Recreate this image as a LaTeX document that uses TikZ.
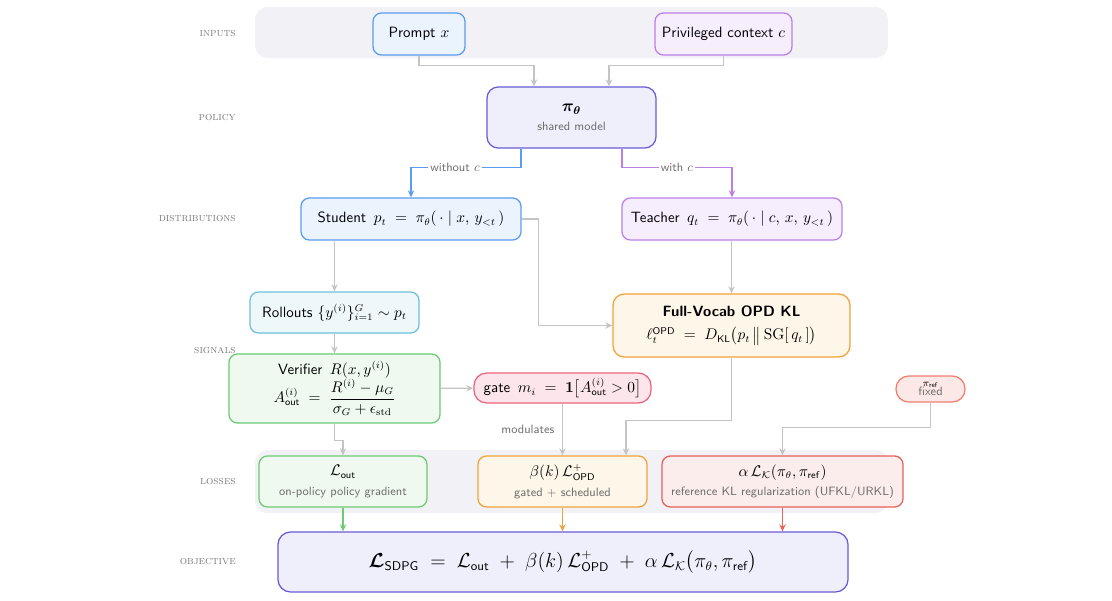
\documentclass[tikz,border=0pt]{standalone}
\usepackage{amsmath,amssymb,amsfonts}
\usepackage{bm}
\usepackage{xcolor}
\usepackage{tikz}
\usetikzlibrary{arrows.meta,positioning,calc}
\renewcommand{\familydefault}{\sfdefault}
\definecolor{bandgray}{HTML}{F1F1F6}
\definecolor{arrowgray}{HTML}{C4C4C4}
\definecolor{subgray}{HTML}{6E6E6E}
\definecolor{lanegray}{HTML}{7A7A7A}
\definecolor{bluebd}{HTML}{5B9CF2}\definecolor{bluebg}{HTML}{EBF3FD}
\definecolor{purpbd}{HTML}{BB80E6}\definecolor{purpbg}{HTML}{F6EEFC}
\definecolor{indbd}{HTML}{6A5BD6}\definecolor{indbg}{HTML}{EFEEFB}
\definecolor{tealbd}{HTML}{6EC0D8}\definecolor{tealbg}{HTML}{EEF8FB}
\definecolor{grnbd}{HTML}{6CCB74}\definecolor{grnbg}{HTML}{EFF9F0}
\definecolor{pinkbd}{HTML}{EA6482}\definecolor{pinkbg}{HTML}{FCE5EB}
\definecolor{orgbd}{HTML}{F2A23A}\definecolor{orgbg}{HTML}{FEF6E8}
\definecolor{redbd}{HTML}{E8615A}\definecolor{redbg}{HTML}{FBEDEC}
\definecolor{refbd}{HTML}{F07F72}\definecolor{refbg}{HTML}{FCE9E7}
\newcommand{\subtext}[1]{{\fontsize{8.6}{10}\selectfont\color{subgray}#1}}

\begin{document}
\begin{tikzpicture}[x=0.025cm, y=-0.025cm, font=\sffamily\fontsize{10.6}{12.7}\selectfont,
  box/.style={draw, rounded corners=6pt, line width=0.9pt, inner sep=0pt, align=center},
  pill/.style={box, rounded corners=9pt},
  flow/.style={draw=arrowgray, line width=0.8pt, -{Stealth[length=5pt,width=4.5pt]}},
  cflow/.style={line width=1pt, -{Stealth[length=5pt,width=4.5pt]}},
  lane/.style={font=\rmfamily\scshape\fontsize{8.2}{9}\selectfont, text=lanegray, anchor=east, inner sep=0pt},
  elabel/.style={fill=white, inner sep=1.5pt, font=\fontsize{8.6}{10}\selectfont, text=subgray}]
\useasboundingbox (0,0) rectangle (1112,600);
\fill[bandgray, rounded corners=9pt] (255,7) rectangle (888,58);
\fill[bandgray, rounded corners=9pt] (255,450) rectangle (888,513);

\node[lane] (lnInputs) at (236,34) {inputs};
\node[lane] (lnPolicy) at (236,118) {policy};
\node[lane] (lnDist) at (236,219) {distributions};
\node[lane] (lnSignals) at (236,351) {signals};
\node[lane] (lnLosses) at (236,482) {losses};
\node[lane] (lnObj) at (236,562) {objective};

\node[box, draw=bluebd, fill=bluebg, minimum width=2.3cm, minimum height=1.05cm] (prompt) at (419,34) {Prompt $x$};
\node[box, draw=purpbd, fill=purpbg, minimum width=3.425cm, minimum height=1.05cm] (priv) at (723.5,34) {Privileged context $c$};
\node[box, draw=indbd, fill=indbg, rounded corners=8pt, minimum width=4.225cm, minimum height=1.525cm] (policy) at (571.5,117.5)
  {{\large$\bm{\pi_\theta}$}\\[1pt] \subtext{shared model}};
\node[box, draw=bluebd, fill=bluebg, minimum width=5.5cm, minimum height=1.05cm] (student) at (411,219)
  {Student\enspace $p_t \;=\; \pi_\theta(\,\cdot \mid x,\, y_{<t}\,)$};
\node[box, draw=purpbd, fill=purpbg, minimum width=5.5cm, minimum height=1.05cm] (teacher) at (732,219)
  {Teacher\enspace $q_t \;=\; \pi_\theta(\,\cdot \mid c,\, x,\, y_{<t}\,)$};
\node[box, draw=tealbd, fill=tealbg, minimum width=4.225cm, minimum height=1.025cm] (rollouts) at (334.5,312.5)
  {Rollouts $\{y^{(i)}\}_{i=1}^{G} \sim p_t$};
\node[box, draw=grnbd, fill=grnbg, minimum width=5.275cm, minimum height=1.725cm] (verifier) at (334.5,388.5)
  {Verifier\enspace $R(x, y^{(i)})$\\ $A^{(i)}_{\mathsf{out}} \;=\; \dfrac{R^{(i)} - \mu_G}{\sigma_G + \epsilon_{\mathrm{std}}}$};
\node[pill, draw=pinkbd, fill=pinkbg, minimum width=4.425cm, minimum height=0.75cm] (gate) at (562.5,388)
  {gate\enspace $m_i \;=\; \mathbf{1}\big[A^{(i)}_{\mathsf{out}} > 0\big]$};
\node[box, draw=orgbd, fill=orgbg, rounded corners=8pt, minimum width=5.925cm, minimum height=1.575cm] (opdkl) at (731.5,325.5)
  {\textbf{Full-Vocab OPD KL}\\[4pt] $\ell_t^{\mathsf{OPD}} \;=\; D_{\mathsf{KL}}\big(p_t \,\big\|\, \mathrm{SG}[\,q_t\,]\big)$};
\node[pill, draw=refbd, fill=refbg, minimum width=1.725cm, minimum height=0.65cm, font=\sffamily\scriptsize] (piref) at (930.5,389)
  {$\pi_{\mathsf{ref}}$\\[-1pt] {\fontsize{8.6}{10}\selectfont\color{subgray}fixed}};
\node[box, draw=grnbd, fill=grnbg, minimum width=4.2cm, minimum height=1.275cm] (lout) at (343,481.5)
  {$\mathcal{L}_{\mathsf{out}}$\\[1pt] \subtext{on-policy policy gradient}};
\node[box, draw=orgbd, fill=orgbg, minimum width=4.225cm, minimum height=1.275cm] (lopd) at (562.5,481.5)
  {$\beta(k)\,\mathcal{L}^{+}_{\mathsf{OPD}}$\\[1pt] \subtext{gated + scheduled}};
\node[box, draw=redbd, fill=redbg, minimum width=6.025cm, minimum height=1.275cm] (lkl) at (782.5,481.5)
  {$\alpha\,\mathcal{L}_{\mathcal{K}}(\pi_\theta, \pi_{\mathsf{ref}})$\\[1pt] \subtext{reference KL regularization (UFKL/URKL)}};
\node[box, draw=indbd, fill=indbg, rounded corners=9pt, minimum width=14.25cm, minimum height=1.5cm, font=\sffamily\fontsize{13.3}{16}\selectfont] (obj) at (563,562)
  {$\bm{\mathcal{L}}_{\mathsf{SDPG}} \;=\; \mathcal{L}_{\mathsf{out}} \;+\; \beta(k)\,\mathcal{L}^{+}_{\mathsf{OPD}} \;+\; \alpha\,\mathcal{L}_{\mathcal{K}}\big(\pi_\theta, \pi_{\mathsf{ref}}\big)$};

\draw[flow] (prompt.south) -- ++(0,10) -| ($(policy.north)+(-37.5,0)$);
\draw[flow] (priv.south) -- ++(0,10) -| ($(policy.north)+(37.5,0)$);
\draw[cflow, bluebd] ($(policy.south)+(-50.5,0)$) -- ++(0,19) -| node[elabel, pos=0.3] {without $c$} (student.north);
\draw[cflow, purpbd] ($(policy.south)+(50.5,0)$) -- ++(0,19) -| node[elabel, pos=0.25] {with $c$} (teacher.north);
\draw[flow] (student.east) -- ++(17,0) |- (opdkl.west);
\draw[flow] (rollouts.north |- student.south) -- (rollouts.north);
\draw[flow] (rollouts) -- (verifier);
\draw[flow] (verifier) -- (gate);
\draw[flow] (opdkl.north |- teacher.south) -- (opdkl.north);
\draw[flow] (opdkl.south) -- ++(0,63) -| ($(lopd.north)+(63.5,0)$);
\draw[flow] (gate) -- node[left=2pt, font=\fontsize{8.6}{10}\selectfont, text=subgray] {modulates} (lopd);
\draw[flow] (piref.south) -- ++(0,25) -| (lkl.north);
\draw[flow] (verifier.south) -- ++(0,17) -| (lout.north);
\draw[cflow, grnbd] (lout.south) -- (lout.south |- obj.north);
\draw[cflow, orgbd] (lopd.south) -- (lopd.south |- obj.north);
\draw[cflow, redbd] (lkl.south) -- (lkl.south |- obj.north);
\end{tikzpicture}
\end{document}
